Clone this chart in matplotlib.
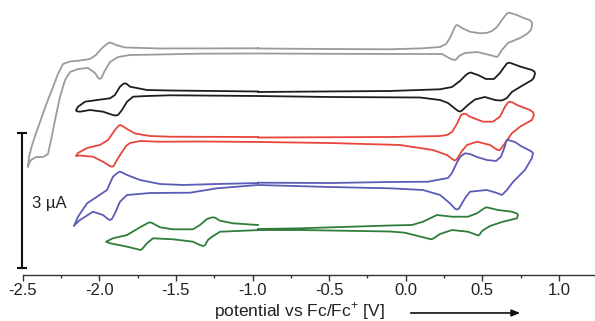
import matplotlib
matplotlib.use('Agg')
import matplotlib.pyplot as plt
from matplotlib.ticker import MultipleLocator
from matplotlib.patches import FancyArrowPatch

plt.rcParams['font.family'] = ['Liberation Sans', 'DejaVu Sans']
plt.rcParams['mathtext.fontset'] = 'custom'
plt.rcParams['mathtext.rm'] = 'Liberation Sans'

# potentials in V vs Fc/Fc+, currents in uA (curves stacked with offsets)
gray_E = [-0.964, -0.494, -0.103, 0.113, 0.224, 0.263, 0.289, 0.315, 0.326, 0.334, 0.345, 0.367,
          0.419, 0.485, 0.530, 0.560, 0.596, 0.635, 0.660, 0.674, 0.690, 0.726, 0.778, 0.810, 0.824,
          0.824, 0.817, 0.791, 0.746, 0.667, 0.628, 0.605, 0.596, 0.585, 0.550, 0.465, 0.387, 0.348,
          0.331, 0.321, 0.305, 0.289, 0.237,
          -0.038, -0.494, -0.964, -1.343, -1.604, -1.800, -1.878, -1.930, -1.969, -1.986, -1.996,
          -2.008, -2.028, -2.074, -2.139, -2.191, -2.224, -2.257, -2.289, -2.315, -2.335, -2.368,
          -2.413, -2.446, -2.462, -2.465,
          -2.459, -2.439, -2.413, -2.387, -2.348, -2.302, -2.270, -2.237, -2.191, -2.126, -2.061,
          -2.022, -1.982, -1.945, -1.930, -1.915, -1.891, -1.832, -1.604, -0.964]
gray_I = [5.056, 5.044, 5.038, 5.060, 5.089, 5.156, 5.290, 5.491, 5.562, 5.580, 5.565, 5.513,
          5.430, 5.395, 5.405, 5.440, 5.535, 5.725, 5.835, 5.855, 5.840, 5.803, 5.725, 5.690, 5.640,
          5.550, 5.468, 5.379, 5.290, 5.178, 5.022, 4.900, 4.866, 4.875, 4.910, 4.977, 4.955, 4.888,
          4.815, 4.799, 4.810, 4.832, 4.933,
          4.933, 4.937, 4.944, 4.940, 4.922, 4.910, 4.866, 4.754, 4.531, 4.400, 4.375,
          4.400, 4.509, 4.620, 4.598, 4.531, 4.352, 3.973, 3.460, 3.013, 2.701, 2.634,
          2.634, 2.567, 2.470, 2.411,
          2.634, 2.902, 3.169, 3.415, 3.794, 4.196, 4.486, 4.710, 4.765, 4.788, 4.821,
          4.910, 5.067, 5.170, 5.189, 5.170, 5.134, 5.078, 5.056, 5.060]

black_E = [-0.964, -0.103, 0.224, 0.302, 0.354, 0.393, 0.410, 0.426, 0.440, 0.472, 0.524, 0.576,
           0.615, 0.648, 0.660, 0.674, 0.690, 0.746, 0.824, 0.840, 0.844,
           0.836, 0.824, 0.746, 0.693, 0.661, 0.635, 0.622, 0.605, 0.583, 0.517, 0.452, 0.406, 0.365,
           0.354, 0.340, 0.321, 0.276, 0.224,
           0.093, -0.494, -0.964, -1.343, -1.539, -1.689, -1.780, -1.819, -1.852, -1.878, -1.895,
           -1.911, -1.976, -2.061, -2.126, -2.148, -2.152,
           -2.139, -2.093, -2.015, -1.930, -1.898, -1.865, -1.845, -1.832, -1.820, -1.800, -1.689,
           -1.539, -0.964]
black_I = [4.085, 4.107, 4.145, 4.196, 4.330, 4.464, 4.505, 4.520, 4.500, 4.464, 4.375, 4.375,
           4.509, 4.665, 4.720, 4.739, 4.725, 4.654, 4.576, 4.540, 4.497,
           4.400, 4.352, 4.196, 4.085, 3.951, 3.905, 3.895, 3.898, 3.906, 3.973, 3.917, 3.794, 3.665,
           3.649, 3.665, 3.716, 3.839, 3.906,
           3.962, 3.973, 3.995, 4.006, 4.011, 3.995, 3.980, 3.868, 3.683, 3.571, 3.560,
           3.571, 3.645, 3.683, 3.645, 3.655, 3.683,
           3.756, 3.868, 3.906, 3.944, 4.018, 4.203, 4.262, 4.279, 4.262, 4.203, 4.129,
           4.118, 4.096]

red_E = [-0.964, -0.103, 0.224, 0.269, 0.302, 0.334, 0.361, 0.380, 0.393, 0.419, 0.504, 0.569,
         0.615, 0.648, 0.668, 0.680, 0.695, 0.726, 0.811, 0.832, 0.837,
         0.824, 0.746, 0.693, 0.648, 0.615, 0.600, 0.550, 0.465, 0.400, 0.367, 0.333, 0.321, 0.310,
         0.269, 0.178,
         -0.038, -0.494, -0.964, -1.343, -1.604, -1.734, -1.800, -1.826, -1.852, -1.885, -1.905,
         -1.917, -1.930, -1.976, -2.041, -2.126, -2.148, -2.152,
         -2.139, -2.080, -1.996, -1.943, -1.898, -1.875, -1.865, -1.853, -1.819, -1.767, -1.669,
         -1.539, -0.964]
red_I = [3.069, 3.080, 3.102, 3.125, 3.192, 3.370, 3.571, 3.600, 3.594, 3.533, 3.422, 3.422,
         3.533, 3.756, 3.850, 3.868, 3.855, 3.794, 3.683, 3.630, 3.571,
         3.460, 3.310, 3.163, 2.940, 2.790, 2.790, 2.902, 2.975, 2.902, 2.768, 2.580, 2.556, 2.575,
         2.678, 2.790,
         2.902, 2.946, 2.969, 2.980, 2.975, 2.991, 2.946, 2.879, 2.745, 2.567, 2.440,
         2.417, 2.430, 2.529, 2.640, 2.667, 2.660, 2.656,
         2.723, 2.835, 2.902, 3.013, 3.236, 3.330, 3.348, 3.335, 3.259, 3.158, 3.102,
         3.087, 3.080]

blue_E = [-0.964, -0.494, -0.103, 0.145, 0.276, 0.302, 0.321, 0.354, 0.387, 0.419, 0.465, 0.530,
          0.589, 0.622, 0.648, 0.655, 0.667, 0.680, 0.713, 0.752, 0.820, 0.831,
          0.824, 0.778, 0.700, 0.661, 0.628, 0.596, 0.530, 0.419, 0.387, 0.347, 0.334, 0.322, 0.289,
          0.224, 0.113,
          -0.103, -0.494, -0.964, -1.232, -1.408, -1.669, -1.819, -1.865, -1.898, -1.918, -1.930,
          -1.942, -1.976, -2.041, -2.126, -2.160, -2.165,
          -2.139, -2.080, -2.015, -1.950, -1.911, -1.877, -1.865, -1.852, -1.819, -1.734, -1.604,
          -1.454, -1.232, -0.964]
blue_I = [2.060, 2.053, 2.076, 2.082, 2.165, 2.277, 2.417, 2.634, 2.716, 2.701, 2.634, 2.567,
          2.544, 2.640, 2.879, 2.990, 3.024, 3.000, 2.969, 2.879, 2.760, 2.723,
          2.611, 2.344, 2.076, 1.897, 1.786, 1.830, 1.897, 1.859, 1.712, 1.480, 1.462, 1.480, 1.600,
          1.786, 1.897,
          1.935, 1.964, 2.009, 1.935, 1.837, 1.830, 1.786, 1.636, 1.377, 1.250, 1.228,
          1.245, 1.339, 1.413, 1.228, 1.120, 1.094,
          1.301, 1.600, 1.748, 1.897, 2.194, 2.290, 2.306, 2.290, 2.232, 2.120, 2.031,
          2.009, 2.031, 2.053]

green_E = [-0.964, -0.690, -0.103, 0.041, 0.113, 0.204, 0.302, 0.406, 0.465, 0.515, 0.530, 0.548,
           0.602, 0.693, 0.728, 0.733,
           0.726, 0.628, 0.550, 0.498, 0.482, 0.472, 0.460, 0.406, 0.302, 0.224, 0.178, 0.165, 0.150,
           0.080, -0.005, -0.103,
           -0.690, -0.951, -1.212, -1.264, -1.291, -1.310, -1.323, -1.340, -1.389, -1.519, -1.650,
           -1.689, -1.722, -1.734, -1.750, -1.819, -1.930, -1.956,
           -1.911, -1.819, -1.734, -1.683, -1.669, -1.655, -1.604, -1.519, -1.389, -1.343, -1.297,
           -1.270, -1.258, -1.245, -1.212, -1.127, -0.964]
green_I = [1.027, 1.042, 1.105, 1.116, 1.190, 1.339, 1.301, 1.301, 1.377, 1.495, 1.511, 1.495,
           1.451, 1.413, 1.370, 1.339,
           1.266, 1.183, 1.094, 0.982, 0.900, 0.882, 0.900, 0.966, 1.004, 0.915, 0.810, 0.797, 0.810,
           0.870, 0.944, 0.971,
           1.004, 1.004, 0.966, 0.855, 0.781, 0.665, 0.647, 0.665, 0.743, 0.797, 0.819,
           0.708, 0.575, 0.558, 0.575, 0.632, 0.708, 0.743,
           0.819, 0.893, 1.065, 1.160, 1.176, 1.160, 1.065, 1.020, 1.020, 1.116, 1.250,
           1.280, 1.288, 1.280, 1.212, 1.154, 1.116]

curves = [
    (gray_E, gray_I, '#9b9b9b'),
    (black_E, black_I, '#1e1e1e'),
    (red_E, red_I, '#e8463c'),
    (blue_E, blue_I, '#5a5cb6'),
    (green_E, green_I, '#2f7d3a'),
]

scale_ua = 3
scale_y0 = 0.163

fig = plt.figure(figsize=(5.95, 3.21), dpi=100)
ax = fig.add_axes([0.0382, 0.1433, 0.9655, 0.8567])

for E, I, col in curves:
    ax.plot(E, I, color=col, lw=1.3, solid_joinstyle='round')

# scale bar
ax.plot([-2.506, -2.506], [scale_y0, scale_y0 + scale_ua], color='#111111', lw=1.5, clip_on=False)
ax.plot([-2.506, -2.506], [scale_y0, scale_y0 + scale_ua], ls='none', marker='_', ms=7,
        mew=1.5, color='#111111', clip_on=False)
ax.text(-2.328, 1.607, '3 µA', ha='center', va='center', fontsize=12, color='#222222')

ax.set_xlim(-2.5, 1.25)
ax.set_ylim(0, 6.138)
for s in ['left', 'right', 'top']:
    ax.spines[s].set_visible(False)
ax.spines['bottom'].set_color('#333333')
ax.spines['bottom'].set_linewidth(1.0)
ax.set_yticks([])
ax.xaxis.set_major_locator(MultipleLocator(0.5))
ax.xaxis.set_minor_locator(MultipleLocator(0.25))
ax.tick_params(axis='x', which='major', length=4, width=1, color='#333333', labelsize=12,
               labelcolor='#222222', pad=2)
ax.tick_params(axis='x', which='minor', length=2.5, width=1, color='#333333')
ax.set_xticks([-2.5, -2.0, -1.5, -1.0, -0.5, 0.0, 0.5, 1.0])
ax.set_xticklabels(['-2.5', '-2.0', '-1.5', '-1.0', '-0.5', '0.0', '0.5', '1.0'])

fig.text(0.504, 0.014, 'potential vs Fc/Fc$^{+}$ [V]', ha='center', va='baseline',
         fontsize=12.5, color='#222222')
fig.add_artist(FancyArrowPatch((408 / 595, 0.025), (523 / 595, 0.025),
               transform=fig.transFigure, arrowstyle='-|>,head_length=5,head_width=2',
               color='#111111', lw=1.2))

fig.savefig('out.png', dpi=100)
